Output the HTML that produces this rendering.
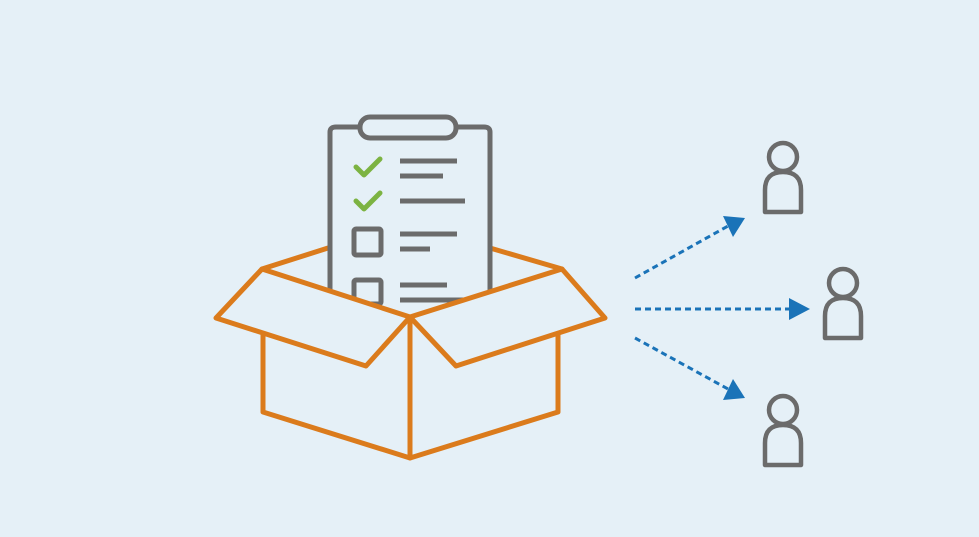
<!DOCTYPE html>
<html><head><style>html,body{margin:0;padding:0;background:#e5f0f7;}svg{display:block}</style></head>
<body>
<svg width="979" height="537" viewBox="0 0 979 537" xmlns="http://www.w3.org/2000/svg">
<rect width="979" height="537" fill="#e5f0f7"/>
<g fill="none" stroke="#db7b1c" stroke-width="5" stroke-linejoin="round" stroke-linecap="round">
<polyline points="262,269 328,248"/>
<polyline points="490,248 562,269"/>
</g>
<g fill="none" stroke="#6b6b6b" stroke-width="5" stroke-linejoin="round">
<path d="M330,300 V132 Q330,127 336,127 H484 Q490,127 490,132 V300"/>
<rect x="360" y="117" width="96" height="21" rx="10" fill="#e5f0f7"/>
<rect x="354" y="229" width="27" height="26" rx="2"/>
<rect x="354" y="280" width="27" height="24" rx="2"/>
</g>
<g stroke="#6b6b6b" stroke-width="5">
<line x1="400" y1="161" x2="457" y2="161"/>
<line x1="400" y1="176" x2="443" y2="176"/>
<line x1="400" y1="201" x2="465" y2="201"/>
<line x1="400" y1="234" x2="457" y2="234"/>
<line x1="400" y1="249" x2="430" y2="249"/>
<line x1="400" y1="285" x2="447" y2="285"/>
<line x1="400" y1="300" x2="465" y2="300"/>
</g>
<g fill="none" stroke="#7cb342" stroke-width="5" stroke-linecap="round" stroke-linejoin="round">
<polyline points="356,167 364,175 380,159"/>
<polyline points="356,201 364,209 380,193"/>
</g>
<g fill="#e5f0f7" stroke="#db7b1c" stroke-width="5" stroke-linejoin="round" stroke-linecap="round">
<polygon points="262,269 410,317 562,269 605,318 558,333 558,412 410,458 263,412 263,332 216,318" stroke="none"/>
<polyline points="263,332 263,412 410,458 558,412 558,333" fill="none"/>
<line x1="410" y1="317" x2="410" y2="458"/>
<polygon points="262,269 410,317 366,366 216,318"/>
<polygon points="562,269 410,317 456,366 605,318"/>
</g>
<g stroke="#1a73b8" stroke-width="3" stroke-dasharray="6,4" fill="none">
<line x1="635" y1="278" x2="728" y2="226"/>
<line x1="635" y1="309" x2="792" y2="309"/>
<line x1="635" y1="338" x2="728" y2="389"/>
</g>
<g fill="#1a73b8">
<polygon points="745,218 723,216 733,237"/>
<polygon points="810,309 789,298 789,320"/>
<polygon points="745,398 733,379 723,400"/>
</g>
<g fill="none" stroke="#6b6b6b" stroke-width="4.5" stroke-linejoin="round">
<circle cx="783" cy="157" r="14"/>
<path d="M765,212 V190 Q765,172 783,172 Q801,172 801,190 V212 Z"/>
<circle cx="843" cy="283" r="14"/>
<path d="M825,338 V316 Q825,298 843,298 Q861,298 861,316 V338 Z"/>
<circle cx="783" cy="410" r="14"/>
<path d="M765,465 V443 Q765,425 783,425 Q801,425 801,443 V465 Z"/>
</g>
</svg>
</body></html>
